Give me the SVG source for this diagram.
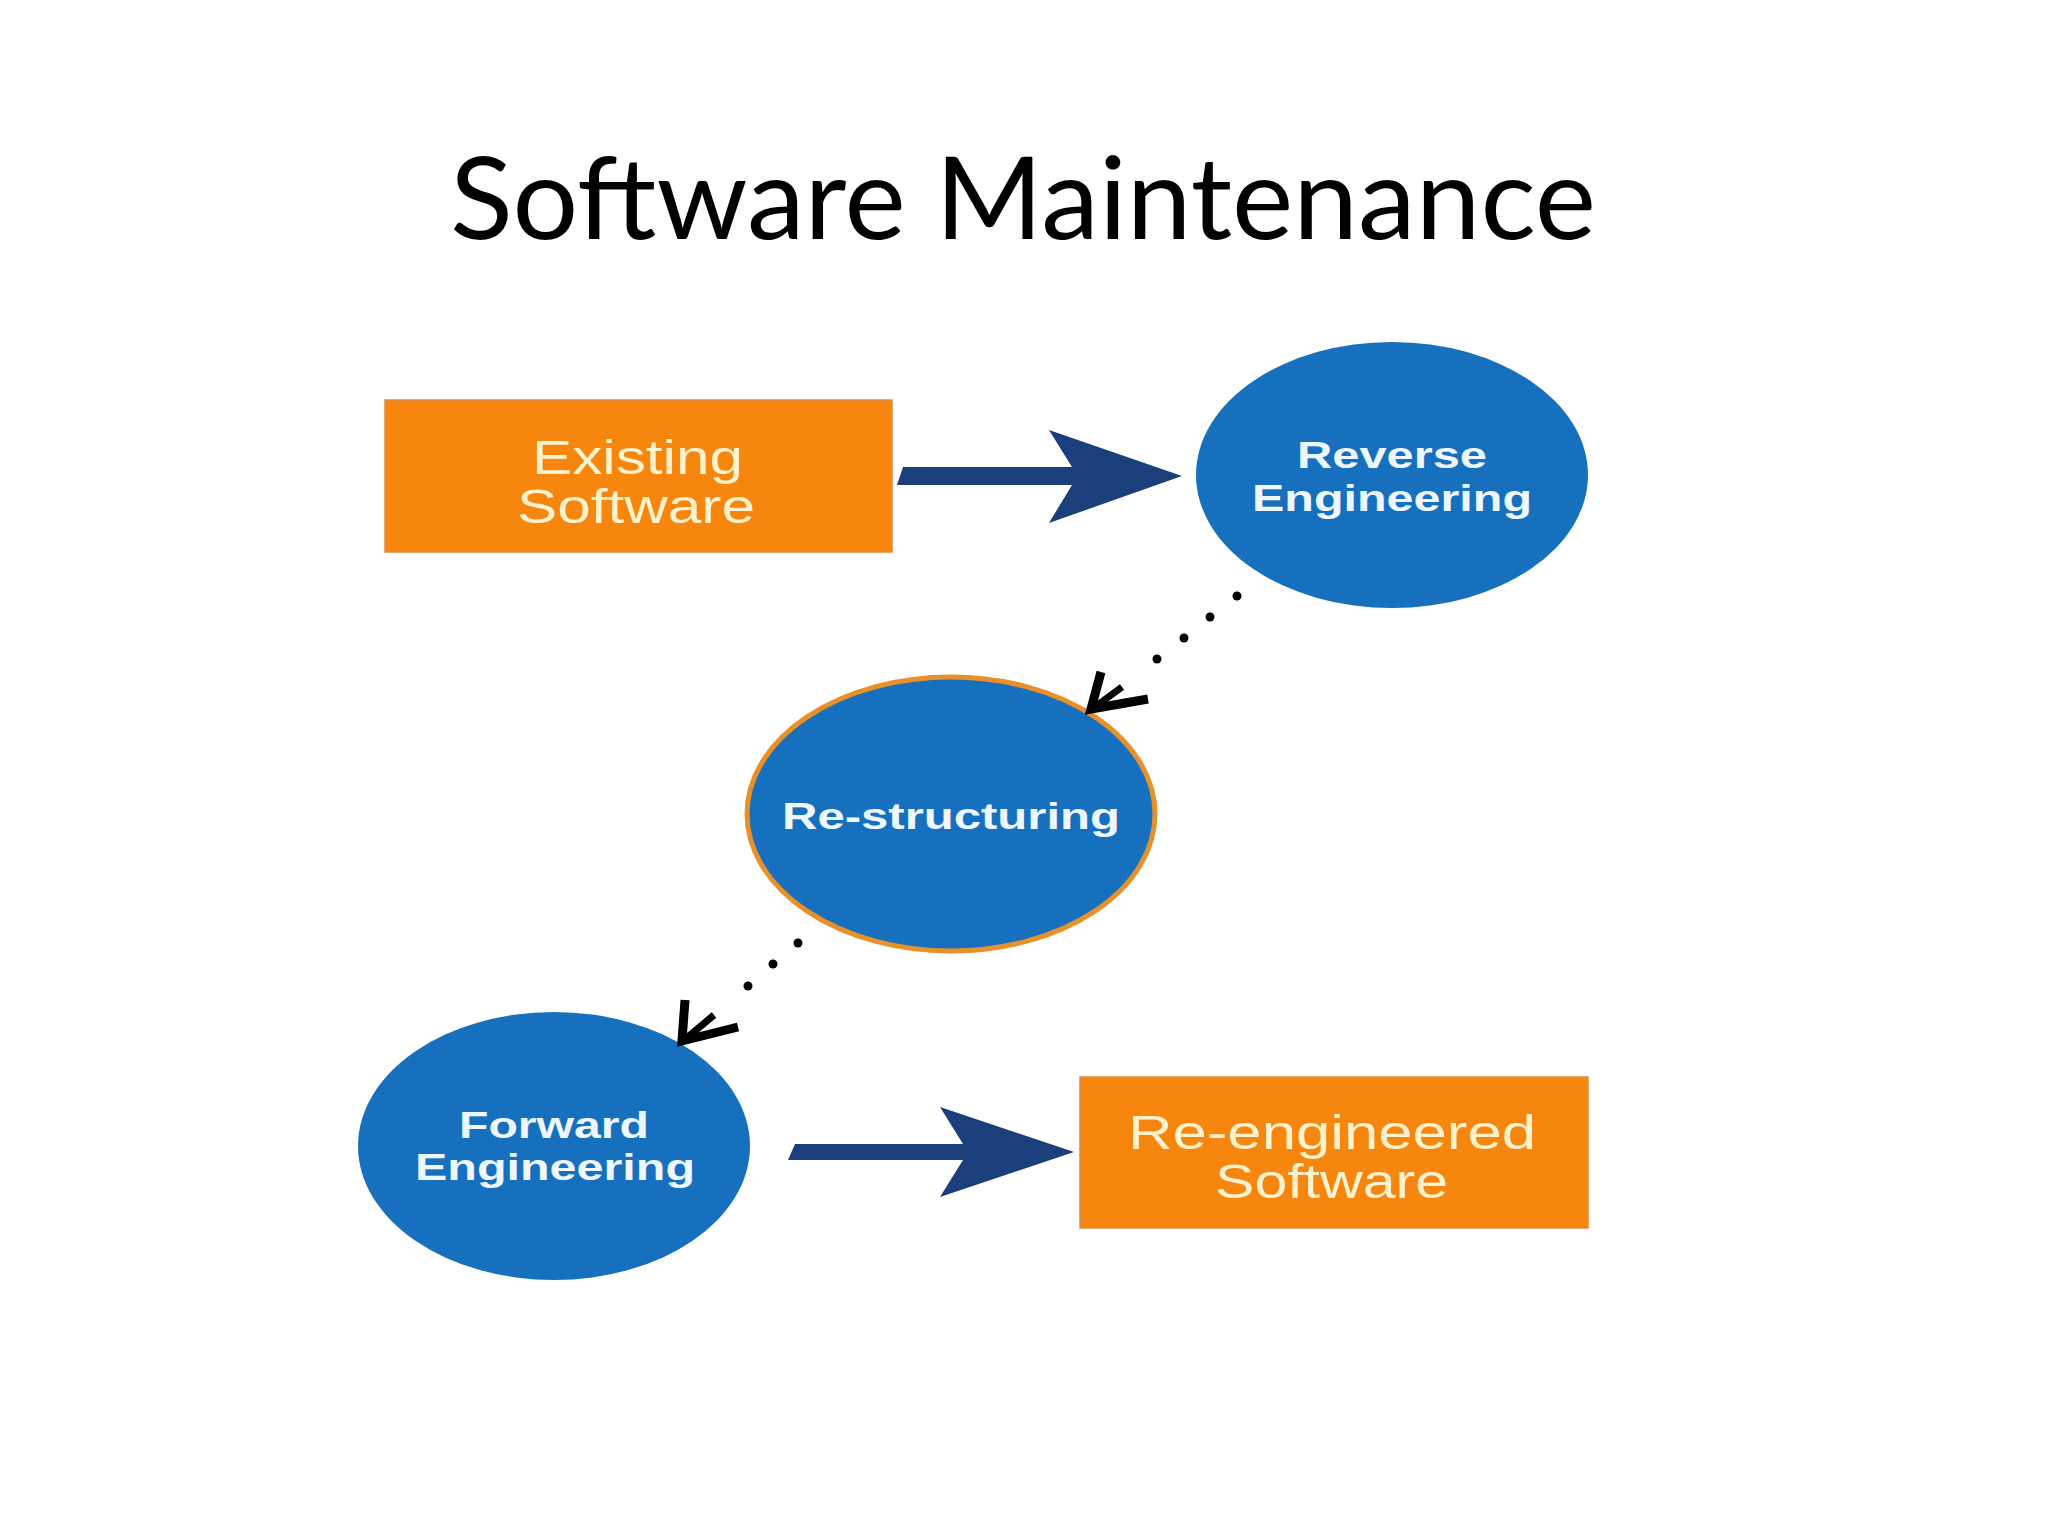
<svg xmlns="http://www.w3.org/2000/svg" width="2048" height="1536" viewBox="0 0 2048 1536">
<style>
.title{font-family:Lato,"Liberation Sans",sans-serif;font-size:114px;fill:#000}
.box{fill:#F7860F;stroke:#DE8A4A;stroke-width:1.5}
.boxtxt{font-family:"Liberation Sans",Arial,sans-serif;font-size:48px;fill:#FFF2CC}
.ell{fill:#1670BD}
.elltxt{font-family:"Liberation Sans",Arial,sans-serif;font-weight:bold;font-size:37px;fill:#EEF6FF}
.arrow{fill:#1B3F7B}
.dot{fill:#000}
.head{fill:none;stroke:#000;stroke-width:9;stroke-linejoin:miter;stroke-linecap:butt}
</style>
<rect width="2048" height="1536" fill="#fff"/>
<text class="title" x="450" y="239" textLength="1146" lengthAdjust="spacingAndGlyphs">Software Maintenance</text>

<g id="existing-software">
<rect class="box" x="385" y="400" width="507" height="152"/>
<text class="boxtxt" x="532" y="474" textLength="211" lengthAdjust="spacingAndGlyphs">Existing</text>
<text class="boxtxt" x="517" y="523" textLength="238" lengthAdjust="spacingAndGlyphs">Software</text>
</g>

<g id="reverse-engineering">
<ellipse class="ell" cx="1392" cy="475" rx="196" ry="133"/>
<text class="elltxt" x="1297" y="468" textLength="190" lengthAdjust="spacingAndGlyphs">Reverse</text>
<text class="elltxt" x="1252" y="511" textLength="280" lengthAdjust="spacingAndGlyphs">Engineering</text>
</g>

<g id="re-structuring">
<ellipse class="ell" cx="951" cy="814" rx="204" ry="137" stroke="#E8902A" stroke-width="5"/>
<text class="elltxt" x="782" y="829" textLength="338" lengthAdjust="spacingAndGlyphs">Re-structuring</text>
</g>

<g id="forward-engineering">
<ellipse class="ell" cx="554" cy="1146" rx="196" ry="134"/>
<text class="elltxt" x="459" y="1138" textLength="190" lengthAdjust="spacingAndGlyphs">Forward</text>
<text class="elltxt" x="415" y="1180" textLength="280" lengthAdjust="spacingAndGlyphs">Engineering</text>
</g>

<g id="re-engineered-software">
<rect class="box" x="1080" y="1077" width="508" height="151"/>
<text class="boxtxt" x="1128" y="1149" textLength="408" lengthAdjust="spacingAndGlyphs">Re-engineered</text>
<text class="boxtxt" x="1215" y="1198" textLength="233" lengthAdjust="spacingAndGlyphs">Software</text>
</g>

<g id="connectors">
<path class="arrow" d="M903,467 L1072,467 L1049,430 L1182,476 L1049,523 L1072,485 L897,485 Z"/>
<path class="arrow" d="M795,1144 L963,1144 L940,1107 L1074,1152 L940,1197 L963,1160 L788,1160 Z"/>
<g>
<circle class="dot" cx="1237" cy="596" r="4.5"/>
<circle class="dot" cx="1210" cy="617" r="4.5"/>
<circle class="dot" cx="1184" cy="638" r="4.5"/>
<circle class="dot" cx="1157" cy="659" r="4.5"/>
<path class="head" d="M1101,672 L1091,709 L1148,699"/>
<path d="M1092,709 L1122,687" stroke="#000" stroke-width="7"/>
</g>
<g>
<circle class="dot" cx="798" cy="943" r="4.5"/>
<circle class="dot" cx="773" cy="964" r="4.5"/>
<circle class="dot" cx="748" cy="986" r="4.5"/>
<path class="head" d="M685,1000 L682,1041 L738,1027"/>
<path d="M683,1041 L714,1015" stroke="#000" stroke-width="7"/>
</g>
</g>
</svg>
